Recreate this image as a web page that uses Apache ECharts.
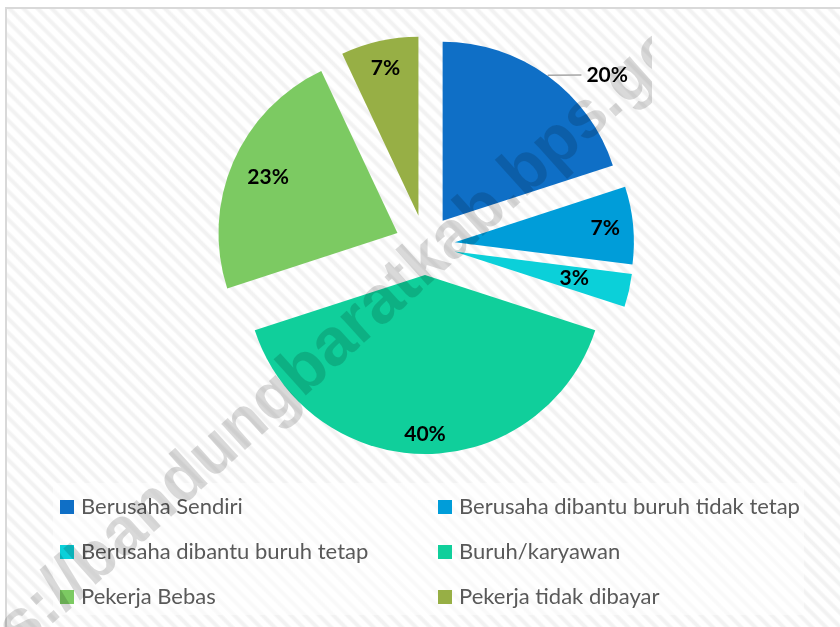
<!DOCTYPE html>
<html>
<head>
<meta charset="utf-8">
<script src="https://cdn.jsdelivr.net/npm/echarts@6/dist/echarts.min.js"></script>
<style>
  html, body { margin: 0; padding: 0; background: #fff; }
  #box {
    position: absolute; left: 5px; top: 7px; width: 900px; height: 700px;
    border: 2px solid #d9d9d9;
    background: repeating-linear-gradient(45deg, #ffffff 0px, #ffffff 4px, #f2f2f2 6px, #f2f2f2 8px, #ffffff 10px);
  }
  #chart { position: absolute; left: 0; top: 0; width: 840px; height: 627px; }
  /* watermark, cut off on the right like in the source image */
  #wm {
    position: absolute; left: 0; top: 0; width: 652px; height: 627px;
    overflow: hidden; pointer-events: none; z-index: 10;
  }
  #wm span {
    position: absolute; left: 320px; top: 351px;
    transform: translate(-50%, -50%) rotate(-42deg);
    white-space: nowrap; line-height: 1;
    font: bold 67px "Liberation Sans";
    color: rgba(0, 0, 0, 0.15);
  }
</style>
</head>
<body>
<div id="box"></div>
<div id="chart"></div>
<div id="wm"><span>https://bandungbaratkab.bps.go.id</span></div>
<script>
// status pekerjaan (persen)
const categories = [
  'Berusaha Sendiri',
  'Berusaha dibantu buruh tidak tetap',
  'Berusaha dibantu buruh tetap',
  'Buruh/karyawan',
  'Pekerja Bebas',
  'Pekerja tidak dibayar'
]
const shares = [20, 7, 3, 40, 23, 7]
const colors = ['#0F6FC6', '#009DD9', '#0BD0D9', '#10CF9B', '#7CCA62', '#97AF45']

// legend columns (row order as in the picture)
const legendLeft = [categories[0], categories[2], categories[4]]
const legendRight = [categories[1], categories[3], categories[5]]

const chart = echarts.init(document.getElementById('chart'), null, { renderer: 'canvas' })

const labelFont = { fontFamily: 'Lato', fontWeight: 'bold', fontSize: 21, color: '#000' }

// small radial nudges (px) for some inside labels, like Excel's best fit
const labelPull = { 2: -28, 3: 8, 4: -10 }

const total = shares.reduce((a, b) => a + b, 0)
function labelOffset(i) {
  const d = labelPull[i]
  if (!d) return [0, 0]
  let before = 0
  for (let k = 0; k < i; k++) before += shares[k]
  const mid = (90 - (before + shares[i] / 2) / total * 360) * Math.PI / 180
  return [d * Math.cos(mid), -d * Math.sin(mid)]
}

function legendItems(names) {
  return names.map(n => ({ name: n, itemStyle: { color: colors[categories.indexOf(n)] } }))
}

function legendOpt(names, left) {
  return {
    orient: 'vertical',
    left: left,
    top: 496,
    padding: 0,
    itemGap: 23,
    itemWidth: 14,
    itemHeight: 14,
    icon: 'rect',
    selectedMode: false,
    textStyle: { fontFamily: 'Lato', fontSize: 22, color: '#595959', padding: [0, 0, 0, 2] },
    data: legendItems(names)
  }
}

chart.setOption({
  animation: false,
  backgroundColor: 'transparent',
  legend: [legendOpt(legendLeft, 60), legendOpt(legendRight, 438)],
  graphic: [
    {
      type: 'rect', z: 0, silent: true,
      shape: { x: 53, y: 483, width: 751, height: 132 },
      style: { fill: 'rgba(255,255,255,0.55)' }
    }
  ],
  series: [
    {
      // the slices
      type: 'pie',
      center: [425, 245],
      radius: 179,
      startAngle: 90,
      selectedMode: 'multiple',
      selectedOffset: 30,
      silent: true,
      emphasis: { disabled: true },
      label: Object.assign({ position: 'outside', formatter: '{d}%', distanceToLabelLine: 5 }, labelFont),
      labelLine: { length: 1, length2: 33, smooth: 0.3, lineStyle: { color: '#a6a6a6', width: 1.5 } },
      data: categories.map((name, i) => ({
        name: name,
        value: shares[i],
        selected: true,
        itemStyle: { color: colors[i] },
        label: { show: i === 0 },
        labelLine: { show: i === 0 }
      }))
    },
    {
      // transparent copy only to put the inside labels further out
      type: 'pie',
      center: [425, 245],
      radius: 296,
      startAngle: 90,
      selectedMode: 'multiple',
      selectedOffset: 30,
      silent: true,
      emphasis: { disabled: true },
      itemStyle: { color: 'rgba(0,0,0,0)' },
      label: Object.assign({ position: 'inside', formatter: '{d}%' }, labelFont),
      labelLine: { show: false },
      labelLayout: function (params) {
        const o = labelOffset(params.dataIndex)
        return { dx: o[0], dy: o[1] }
      },
      data: categories.map((name, i) => ({
        name: name,
        value: shares[i],
        selected: true,
        label: { show: i !== 0 }
      }))
    }
  ]
})
</script>
</body>
</html>
